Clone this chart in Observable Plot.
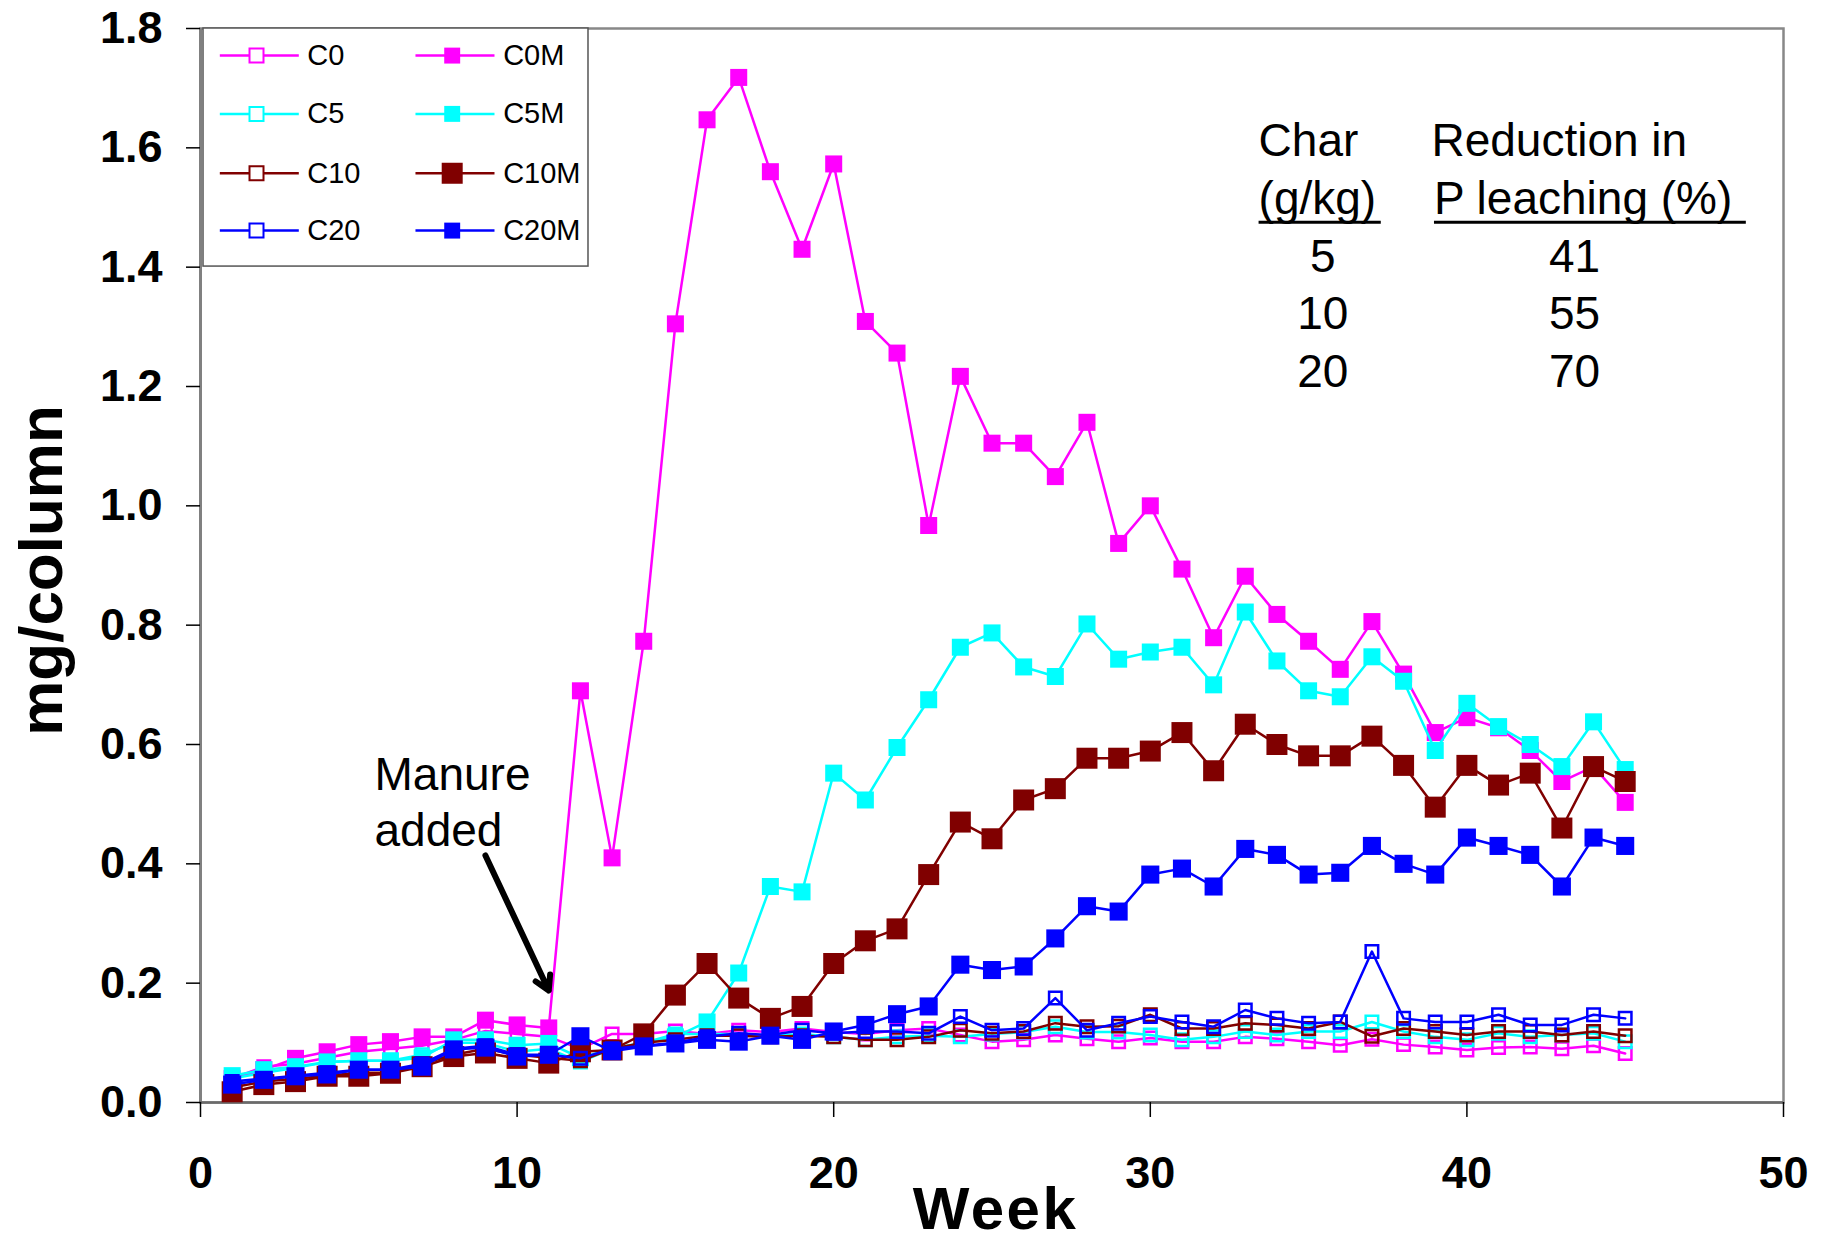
<!DOCTYPE html>
<html><head><meta charset="utf-8">
<script src="https://cdn.jsdelivr.net/npm/d3@7"></script>
<script src="https://cdn.jsdelivr.net/npm/@observablehq/plot@0.6"></script>
<style>html,body{margin:0;padding:0;background:#fff;overflow:hidden}</style>
</head><body><div id="chart"></div>
<script>
// ---- data ----
const weeks = [1,2,3,4,5,6,7,8,9,10,11,12,13,14,15,16,17,18,19,20,21,22,23,24,25,26,27,28,29,30,31,32,33,34,35,36,37,38,39,40,41,42,43,44,45];
const C0   = [0.04,0.06,0.065,0.075,0.085,0.09,0.095,0.105,0.12,0.115,0.11,0.09,0.115,0.115,0.12,0.115,0.121,0.118,0.124,0.118,0.115,0.121,0.124,0.113,0.102,0.105,0.113,0.107,0.102,0.108,0.102,0.102,0.11,0.107,0.102,0.096,0.106,0.097,0.093,0.088,0.092,0.093,0.09,0.095,0.082];
const C0M  = [0.04,0.055,0.074,0.085,0.097,0.102,0.11,0.11,0.138,0.13,0.125,0.69,0.41,0.773,1.305,1.647,1.718,1.56,1.43,1.573,1.309,1.256,0.967,1.217,1.105,1.105,1.049,1.14,0.937,1.0,0.894,0.779,0.882,0.818,0.773,0.726,0.806,0.718,0.62,0.645,0.628,0.59,0.538,0.563,0.503];
const C5   = [0.04,0.05,0.058,0.068,0.07,0.07,0.08,0.1,0.1,0.085,0.09,0.068,0.09,0.1,0.115,0.115,0.115,0.112,0.115,0.11,0.105,0.11,0.112,0.11,0.115,0.118,0.127,0.118,0.118,0.113,0.105,0.11,0.119,0.113,0.119,0.119,0.135,0.119,0.11,0.105,0.116,0.11,0.113,0.116,0.102];
const C5M  = [0.045,0.055,0.06,0.068,0.07,0.07,0.075,0.105,0.105,0.096,0.099,0.075,0.09,0.1,0.11,0.135,0.217,0.362,0.353,0.552,0.507,0.595,0.675,0.763,0.787,0.73,0.714,0.802,0.743,0.755,0.763,0.70,0.822,0.74,0.69,0.68,0.747,0.706,0.59,0.669,0.63,0.60,0.563,0.638,0.558];
const C10  = [0.025,0.035,0.04,0.045,0.05,0.05,0.065,0.08,0.09,0.08,0.075,0.07,0.09,0.1,0.105,0.112,0.112,0.11,0.112,0.11,0.105,0.105,0.11,0.121,0.116,0.119,0.133,0.127,0.128,0.147,0.124,0.124,0.133,0.13,0.124,0.135,0.111,0.124,0.119,0.113,0.119,0.119,0.113,0.119,0.112];
const C10M = [0.018,0.03,0.035,0.044,0.044,0.049,0.06,0.077,0.083,0.074,0.066,0.085,0.088,0.115,0.18,0.233,0.175,0.141,0.161,0.233,0.271,0.291,0.382,0.47,0.442,0.507,0.526,0.577,0.577,0.589,0.62,0.556,0.634,0.60,0.581,0.581,0.614,0.565,0.495,0.565,0.532,0.552,0.46,0.563,0.538];
const C20  = [0.035,0.04,0.045,0.05,0.055,0.055,0.065,0.09,0.095,0.08,0.08,0.074,0.09,0.095,0.1,0.11,0.116,0.113,0.121,0.116,0.119,0.119,0.116,0.144,0.121,0.124,0.175,0.121,0.133,0.144,0.135,0.127,0.155,0.141,0.133,0.135,0.253,0.141,0.135,0.135,0.147,0.13,0.13,0.147,0.141];
const C20M = [0.03,0.038,0.044,0.047,0.055,0.055,0.06,0.089,0.092,0.077,0.08,0.111,0.086,0.094,0.099,0.105,0.102,0.112,0.105,0.119,0.13,0.148,0.161,0.231,0.222,0.228,0.275,0.329,0.32,0.382,0.392,0.362,0.425,0.415,0.382,0.385,0.43,0.40,0.382,0.444,0.43,0.415,0.362,0.444,0.43];

const seriesNames = ["C0","C0M","C5","C5M","C10","C10M","C20","C20M"];
const seriesData  = [C0, C0M, C5, C5M, C10, C10M, C20, C20M];

const xTicks = [0,10,20,30,40,50];
const yTicks = [0,0.2,0.4,0.6,0.8,1.0,1.2,1.4,1.6,1.8];
const xLabel = "Week";
const yLabel = "mg/column";

const tableHead1 = ["Char", "Reduction in"];
const tableHead2 = ["(g/kg)", "P leaching (%)"];
const charRates  = ["5","10","20"];
const reductions = ["41","55","70"];
const noteLines  = ["Manure", "added"];

// ---- styles / layout ----
const colors  = ["#FF00FF","#FF00FF","#00FFFF","#00FFFF","#800000","#800000","#0000FF","#0000FF"];
const filled  = [false,true,false,true,false,true,false,true];
const plotR   = [7.05,9.6,7.05,9.6,7.05,11.85,7.05,10.2];
const legendR = [7.9,9.0,7.9,9.0,7.9,11.85,7.9,9.0];
const FONT = "'Liberation Sans', Arial, Helvetica, sans-serif";

// legend layout (in data units of the chart scales)
const legRowsY = [1.7546,1.6569,1.5574,1.4613];
const legCols = [{l1:0.61,l2:3.105,m:1.769,t:3.37},{l1:6.79,l2:9.286,m:7.95,t:9.56}];
const legendItems = seriesNames.map((name,i)=>{
  const c = legCols[i%2], y = legRowsY[Math.floor(i/2)];
  return {name, i, y, x1:c.l1, x2:c.l2, xm:c.m, xt:c.t};
});
const legendBox = [{x1:0.095, x2:12.255, y1:1.8, y2:1.401}];

// table layout
const tableCols = [35.45, 43.40];
const tableRowY = [1.3915, 1.2966, 1.1988];
const tableCells = [];
charRates.forEach((v,k)=>{tableCells.push({x:tableCols[0], y:tableRowY[k], t:v}); tableCells.push({x:tableCols[1], y:tableRowY[k], t:reductions[k]});});
const tableHeads = [
  {x:33.42, y:1.5859, t:tableHead1[0]}, {x:38.88, y:1.5859, t:tableHead1[1]},
  {x:33.42, y:1.4899, t:tableHead2[0]}, {x:38.96, y:1.4899, t:tableHead2[1]}
];
const underlines = [{x1:33.42, x2:37.28, y:1.4753},{x1:38.96, x2:48.81, y:1.4753}];

// annotation
const noteText = [{x:5.497, y:0.524, t:noteLines[0]},{x:5.497, y:0.4307, t:noteLines[1]}];
const noteArrow = [{x1:9.0, y1:0.414, x2:11.0, y2:0.1877}];

// ---- build ----
const seriesMarks = [];
seriesNames.forEach((name,i)=>{
  const rows = weeks.map((w,k)=>({week:w, value:seriesData[i][k]}));
  seriesMarks.push(Plot.line(rows, {x:"week", y:"value", stroke:colors[i], strokeWidth:2.5}));
  seriesMarks.push(Plot.dot(rows, filled[i]
    ? {x:"week", y:"value", symbol:"square", r:plotR[i], fill:colors[i], stroke:"none"}
    : {x:"week", y:"value", symbol:"square", r:plotR[i], fill:"none", stroke:colors[i], strokeWidth:2.5}));
});

const legendMarks = [
  Plot.rect(legendBox, {x1:"x1", x2:"x2", y1:"y1", y2:"y2", fill:"white", stroke:"#555", strokeWidth:1.5}),
  Plot.link(legendItems, {x1:"x1", x2:"x2", y1:"y", y2:"y", stroke:d=>colors[d.i], strokeWidth:2.5}),
  ...legendItems.map(d => Plot.dot([d], filled[d.i]
      ? {x:"xm", y:"y", symbol:"square", r:legendR[d.i], fill:colors[d.i], stroke:"none"}
      : {x:"xm", y:"y", symbol:"square", r:legendR[d.i], fill:"white", stroke:colors[d.i], strokeWidth:2})),
  Plot.text(legendItems, {x:"xt", y:"y", text:"name", textAnchor:"start", lineAnchor:"middle", fontSize:29, fill:"black"})
];

const chart = Plot.plot({
  width: 1827, height: 1241,
  marginLeft: 200, marginRight: 44, marginTop: 28, marginBottom: 139,
  style: {fontFamily: FONT, background: "white", color: "black"},
  x: {domain:[0,50]},
  y: {domain:[0,1.8]},
  marks: [
    Plot.frame({stroke:"#888", strokeWidth:2.5}),
    Plot.ruleX([0], {stroke:"#808080", strokeWidth:3}),
    Plot.ruleY([0], {stroke:"#6a6a6a", strokeWidth:2.5}),
    Plot.axisX({ticks:xTicks, tickSize:15, tickPadding:39, fontSize:45, fontWeight:"bold", label:null, strokeWidth:1.5}),
    Plot.axisY({ticks:yTicks, tickFormat:d=>d.toFixed(1), tickSize:14, tickPadding:24, fontSize:45, fontWeight:"bold", label:null, strokeWidth:1.5}),
    ...seriesMarks,
    ...legendMarks,
    Plot.text(tableHeads, {x:"x", y:"y", text:"t", textAnchor:"start", lineAnchor:"bottom", fontSize:46, fill:"black"}),
    Plot.text(tableCells, {x:"x", y:"y", text:"t", textAnchor:"middle", lineAnchor:"bottom", fontSize:46, fill:"black"}),
    Plot.link(underlines, {x1:"x1", x2:"x2", y1:"y", y2:"y", stroke:"black", strokeWidth:3}),
    Plot.text(noteText, {x:"x", y:"y", text:"t", textAnchor:"start", lineAnchor:"bottom", fontSize:46, fill:"black"}),
    Plot.arrow(noteArrow, {x1:"x1", y1:"y1", x2:"x2", y2:"y2", stroke:"black", strokeWidth:6, headLength:4, headAngle:60}),
    Plot.text([xLabel], {frameAnchor:"bottom", dx:3.5, dy:126, lineAnchor:"bottom", textAnchor:"middle", fontSize:60, fontWeight:"bold", fill:"black"}),
    Plot.text([yLabel], {frameAnchor:"left", dx:-138.3, dy:5, rotate:-90, lineAnchor:"bottom", textAnchor:"middle", fontSize:62, fontWeight:"bold", fill:"black"})
  ]
});

d3.select(chart).selectAll("text").filter(function(){return this.textContent === xLabel;}).attr("letter-spacing","2.5px");
document.getElementById("chart").appendChild(chart);
</script>
</body></html>
